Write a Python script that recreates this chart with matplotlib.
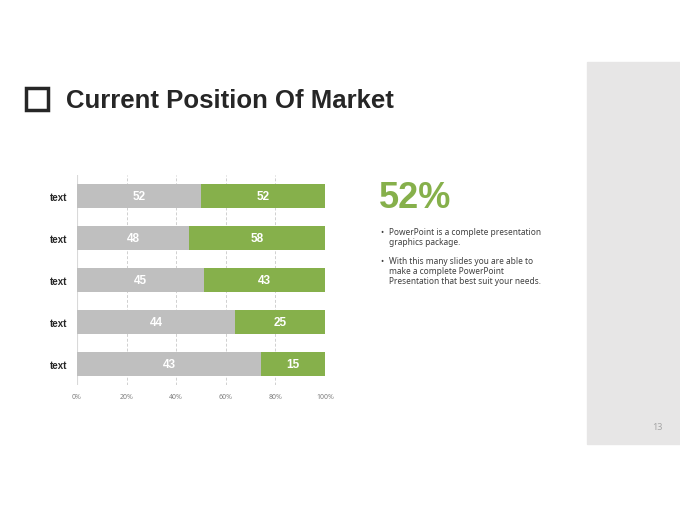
import numpy as np
import matplotlib.pyplot as plt
from matplotlib.patches import Rectangle

categories = ['text', 'text', 'text', 'text', 'text']
gray_vals = [52, 48, 45, 44, 43]
green_vals = [52, 58, 43, 25, 15]
tick_labels = ['0%', '20%', '40%', '60%', '80%', '100%']

plt.rcParams['font.family'] = ['Noto Sans', 'DejaVu Sans']
BOLD = ['Liberation Sans', 'DejaVu Sans']

gray = np.array(gray_vals, dtype=float)
green = np.array(green_vals, dtype=float)
total = gray + green
gray_pct = gray / total * 100
green_pct = green / total * 100

fig = plt.figure(figsize=(6.8, 5.1), dpi=100)
W, H = 680, 510

# right gray side panel
fig.patches.append(Rectangle((587 / W, 1 - 445 / H), 93 / W, (445 - 63) / H,
                             transform=fig.transFigure, color='#e7e6e6', zorder=0))
fig.text(657 / W, 1 - 428 / H, '13', fontsize=6.5, color='#a6a6a6', ha='center', va='center')

# title with square
fig.patches.append(Rectangle((26 / W, 1 - 111 / H), 22 / W, 22 / H, transform=fig.transFigure,
                             fill=False, edgecolor='#262626', linewidth=2.5))
fig.text(66 / W, 1 - 101 / H, 'Current Position Of Market', fontsize=18.5, fontweight='bold',
         family=BOLD, color='#262626', ha='left', va='center')

# chart
ax = fig.add_axes([77 / W, 1 - 386 / H, (325 - 77) / W, (386 - 176) / H])
y = np.arange(len(categories))
ax.barh(y, gray_pct, height=0.55, color='#bfbfbf', zorder=2)
ax.barh(y, green_pct, left=gray_pct, height=0.55, color='#86b04b', zorder=2)
for i in range(len(categories)):
    ax.text(gray_pct[i] / 2, y[i], f'{gray_vals[i]}', ha='center', va='center',
            color='white', fontsize=8.5, fontweight='bold', family=BOLD, zorder=3)
    ax.text(gray_pct[i] + green_pct[i] / 2, y[i], f'{green_vals[i]}', ha='center', va='center',
            color='white', fontsize=8.5, fontweight='bold', family=BOLD, zorder=3)

ax.set_xlim(0, 100)
ax.set_ylim(len(categories) - 0.5, -0.5)
ax.set_xticks([0, 20, 40, 60, 80, 100])
ax.set_xticklabels(tick_labels, fontsize=5, color='#808080')
ax.set_yticks(y)
ax.set_yticklabels(categories, fontsize=7, fontweight='bold', family=BOLD, color='#262626')
ax.tick_params(length=0)
ax.tick_params(axis='x', pad=6)
ax.tick_params(axis='y', pad=7)
for s in ax.spines.values():
    s.set_visible(False)
ax.axvline(0, color='#d9d9d9', linewidth=0.8, zorder=1)
for v in [20, 40, 60, 80, 100]:
    ax.axvline(v, color='#d0d0d0', linewidth=0.7, linestyle=(0, (3, 2)), zorder=1)

# right text block
fig.text(379 / W, 1 - 199 / H, '52%', fontsize=26, fontweight='bold', family=BOLD,
         color='#86b04b', ha='left', va='center')
bullets = [
    (233, 'PowerPoint is a complete presentation\ngraphics package.'),
    (262, 'With this many slides you are able to\nmake a complete PowerPoint\nPresentation that best suit your needs.'),
]
for ypx, txt in bullets:
    fig.text(380 / W, 1 - ypx / H, '•', fontsize=6, color='#404040', ha='left', va='center')
    fig.text(389 / W, 1 - (ypx - 5) / H, txt, fontsize=6, color='#404040', ha='left', va='top',
             linespacing=1.15)

fig.savefig('out.png', dpi=100)
